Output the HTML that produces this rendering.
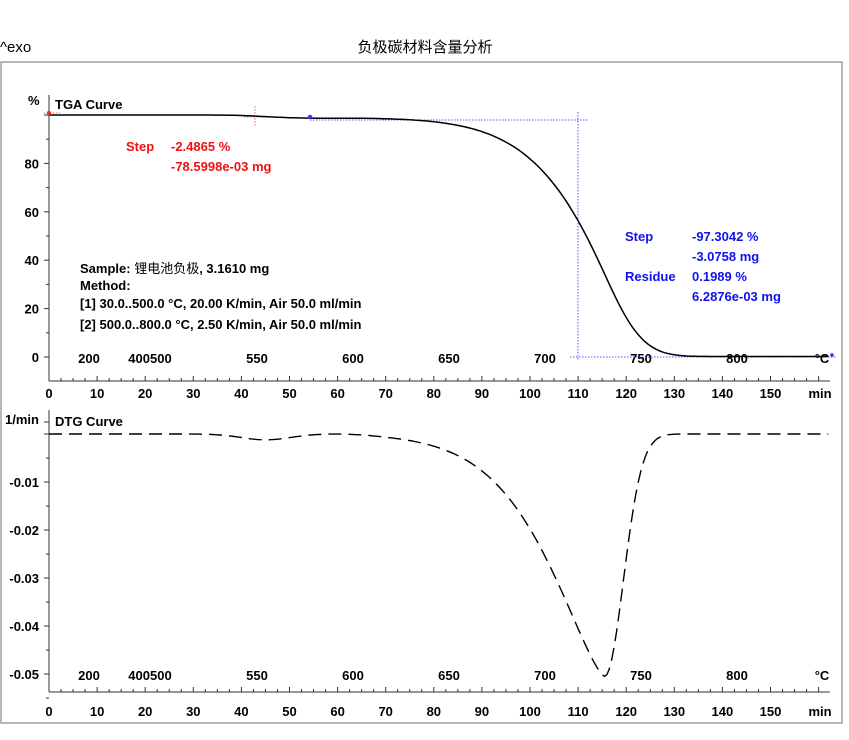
<!DOCTYPE html>
<html><head><meta charset="utf-8"><style>
body{margin:0;background:#fff;}
svg text{font-family:"Liberation Sans","Noto Sans CJK SC",sans-serif;}
.b{font-weight:bold;font-size:13px;}
</style></head><body>
<svg id="s" width="849" height="735" viewBox="0 0 849 735" xmlns="http://www.w3.org/2000/svg">
<rect x="0" y="0" width="849" height="735" fill="#fff"/>
<text x="0" y="52" font-size="15">^exo</text>
<text x="425" y="52" font-size="15" text-anchor="middle" font-family="'Noto Sans CJK SC',sans-serif">负极碳材料含量分析</text>
<rect x="1" y="62" width="841" height="661" fill="none" stroke="#888" stroke-width="1.2"/>
<g id="ax" stroke="#333" stroke-width="1" fill="none"></g>
<g id="tx" fill="#000"></g>
<g stroke="#55f" stroke-width="1" stroke-dasharray="1.5,1.5" fill="none">
<line x1="310" y1="120" x2="588" y2="120"/>
<line x1="578" y1="112" x2="578" y2="360"/>
<line x1="570" y1="357" x2="836" y2="357"/>
</g>
<g stroke="#f66" stroke-width="1" stroke-dasharray="1.5,1.5" fill="none">
<line x1="244" y1="117" x2="268" y2="117"/>
<line x1="255" y1="106" x2="255" y2="127"/>
<line x1="44" y1="113" x2="60" y2="113"/>
</g>
<path id="tga" fill="none" stroke="#000" stroke-width="1.5"/>
<path id="dtg" fill="none" stroke="#000" stroke-width="1.4" stroke-dasharray="13,7"/>
<circle cx="49" cy="113" r="2.2" fill="#e33"/>
<circle cx="310" cy="117" r="2.2" fill="#33e"/>
<circle cx="832" cy="355" r="1.8" fill="#33e"/>
<text class="b" x="55" y="109">TGA Curve</text>
<text class="b" x="55" y="426">DTG Curve</text>
<text class="b" x="28" y="105">%</text>
<text class="b" x="5" y="424">1/min</text>
<g fill="#e11" class="b"><text x="126" y="151">Step</text><text x="171" y="151">-2.4865 %</text><text x="171" y="171">-78.5998e-03 mg</text></g>
<g fill="#11e" class="b"><text x="625" y="241">Step</text><text x="692" y="241">-97.3042 %</text><text x="692" y="261">-3.0758 mg</text>
<text x="625" y="281">Residue</text><text x="692" y="281">0.1989 %</text><text x="692" y="301">6.2876e-03 mg</text></g>
<g class="b"><text x="80" y="273">Sample: <tspan font-weight="normal">锂电池负极</tspan>, 3.1610 mg</text>
<text x="80" y="290">Method:</text>
<text x="80" y="308">[1] 30.0..500.0 °C, 20.00 K/min, Air 50.0 ml/min</text>
<text x="80" y="329">[2] 500.0..800.0 °C, 2.50 K/min, Air 50.0 ml/min</text></g>
</svg>
<script>
var X=t=>49+t*4.81;
var ax=document.getElementById('ax'),tx=document.getElementById('tx');
var h='',T='';
function txt(x,y,s,a){T+='<text class="b" x="'+x+'" y="'+y+'" text-anchor="'+(a||'middle')+'">'+s+'</text>';}
[[381,398,363],[692,716,680]].forEach(function(p){
 var y=p[0];
 h+='<line x1="49" y1="'+y+'" x2="830" y2="'+y+'"/>';
 for(var t=0;t<=162;t+=2.5){var l=(t%10==0)?5:3;h+='<line x1="'+X(t)+'" y1="'+(y-l)+'" x2="'+X(t)+'" y2="'+y+'"/>';}
 for(var t=0;t<=150;t+=10)txt(X(t),p[1],t);
 txt(820,p[1],'min');
 [[89,'200'],[150,'400500'],[257,'550'],[353,'600'],[449,'650'],[545,'700'],[641,'750'],[737,'800'],[822,'°C']].forEach(function(q){txt(q[0],p[2],q[1]);});
});
h+='<line x1="49" y1="95" x2="49" y2="381"/>';
for(var v=0;v<=100;v+=10){var y=357-v*2.42;h+='<line x1="'+(v%20==0?44:46)+'" y1="'+y+'" x2="49" y2="'+y+'"/>';if(v%20==0&&v<100)txt(39,y+5,v,'end');}
h+='<line x1="49" y1="410" x2="49" y2="692"/>';
for(var i=0;i<=11;i++){var y=434+i*24;h+='<line x1="'+(i%2==0?44:46)+'" y1="'+y+'" x2="49" y2="'+y+'"/>';if(i%2==0&&i>0)txt(39,y+5,'-0.0'+(i/2),'end');}
h+='<line x1="44" y1="422" x2="49" y2="422"/>';
ax.innerHTML=h;tx.innerHTML=T;
function D(t,rs){
 var dt=t-115.5,m;
 if(dt<0)m=Math.exp(-0.0202*Math.pow(-dt,1.4));else m=Math.exp(-dt*dt/(2*rs*rs));
 return -0.0505*m-0.0012*Math.exp(-Math.pow(t-45,2)/50)+0.0002*Math.exp(-Math.pow(t-62,2)/60);
}
var st=0.1,tot=0,RS=6.3;for(var t=0;t<162;t+=st)tot+=Math.min(0,D(t,RS))*st;
var sc=99.8/(-tot);
var d='',e='',c=0;
for(var t=0;t<=162;t+=0.5){
 var g=D(t,3.9);
 e+=(t?'L':'M')+X(t).toFixed(1)+' '+(434-g*4800).toFixed(1);
}
var k=0;
for(var t=0;t<=162.001;t+=st){
 c+=Math.min(0,D(t,RS))*st;
 if(k%5==0){var v=100+c*sc;d+=(k?'L':'M')+X(t).toFixed(1)+' '+(357-v*2.42).toFixed(1);}
 k++;
}
document.getElementById('tga').setAttribute('d',d);
document.getElementById('dtg').setAttribute('d',e);
</script>
</body></html>
